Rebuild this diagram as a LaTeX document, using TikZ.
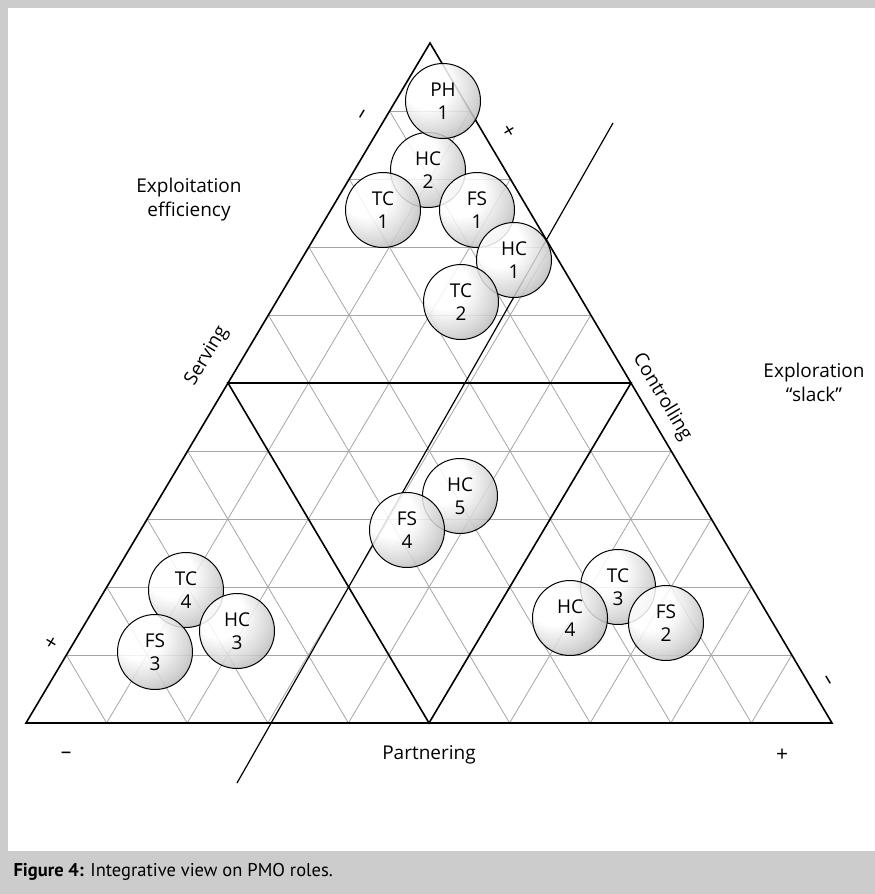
\documentclass[tikz,border=0pt]{standalone}
\usepackage{fontspec}
\setmainfont{Open Sans}
\newfontfamily\capfont{PT Sans}
\usetikzlibrary{calc}
\pgfdeclareradialshading{pmoball}{\pgfpoint{-14bp}{14bp}}{color(0bp)=(white); color(16bp)=(white); color(30bp)=(black!18); color(45bp)=(black!42); color(60bp)=(black!68); color(80bp)=(black!75)}

\begin{document}
\begin{tikzpicture}[x=1pt,y=-1pt,
  every node/.style={black,font=\fontsize{19}{24}\selectfont},
  grid/.style={black!35,line width=0.8pt},
  edge/.style={black,line width=1.6pt,line join=miter},
  role/.style={circle,draw=black,line width=1pt,shading=pmoball,fill opacity=0.85,text opacity=1,
    minimum size=75pt,inner sep=0pt,align=center,font=\fontsize{19}{23}\selectfont},
  sign/.style={font=\fontsize{21}{21}\selectfont}]
\useasboundingbox (0,0) rectangle (875,894);
\fill[black!20] (0,0) rectangle (875,894);
\fill[white] (8,8) rectangle (875,851);

\coordinate (A) at (26,723);
\coordinate (B) at (832,723);
\coordinate (C) at (430,43);

\foreach \i in {1,...,9} {
  \draw[grid] ($(A)!\i/10!(C)$) -- ($(B)!\i/10!(C)$);
  \draw[grid] ($(A)!\i/10!(B)$) -- ($(C)!\i/10!(B)$);
  \draw[grid] ($(A)!\i/10!(B)$) -- ($(A)!\i/10!(C)$);
}

\draw[edge] (A) -- (B) -- (C) -- cycle;
\draw[edge] ($(A)!0.5!(C)$) -- ($(B)!0.5!(C)$) -- ($(A)!0.5!(B)$) -- cycle;

\coordinate (diagS) at (237,783);
\coordinate (diagN) at (613,123);
\draw[black,line width=1.2pt] (diagS) -- (diagN);

\node[role] (hc2) at (428,170) {HC\\2};
\node[role] (ph1) at (443,101) {PH\\1};
\node[role] (tc1) at (383,210) {TC\\1};
\node[role] (fs1) at (477,210) {FS\\1};
\node[role] (hc1) at (514,260) {HC\\1};
\node[role] (tc2) at (461,302) {TC\\2};
\node[role] (hc5) at (460,496) {HC\\5};
\node[role] (fs4) at (407,530) {FS\\4};
\node[role] (tc4) at (186,590) {TC\\4};
\node[role] (hc3) at (237,631) {HC\\3};
\node[role] (fs3) at (155,652) {FS\\3};
\node[role] (tc3) at (618,587) {TC\\3};
\node[role] (hc4) at (570,618) {HC\\4};
\node[role] (fs2) at (666,623) {FS\\2};

\node[align=center] (exploit) at (189,200) {Exploitation\\efficiency};
\node[align=center] (explore) at (814,382) {Exploration\\“slack”};
\node[rotate=59] (serving) at (207,356) {Serving};
\node[rotate=-59] (controlling) at (662,397) {Controlling};
\node (partnering) at (429,755) {Partnering};

\node[sign] (pminus) at (66,755) {–};
\node[sign] (pplus) at (782,755) {+};
\node[sign,rotate=59] (sminus) at (364,115) {–};
\node[sign,rotate=59] (splus) at (52,643) {+};
\node[sign,rotate=-59] (cplus) at (508,131) {+};
\node[sign,rotate=-59] (cminus) at (826,681) {–};

\node[anchor=west,font=\capfont\fontsize{18.5}{18.5}\selectfont] (caption) at (10,872)
  {\textbf{Figure 4:} Integrative view on PMO roles.};
\end{tikzpicture}
\end{document}
